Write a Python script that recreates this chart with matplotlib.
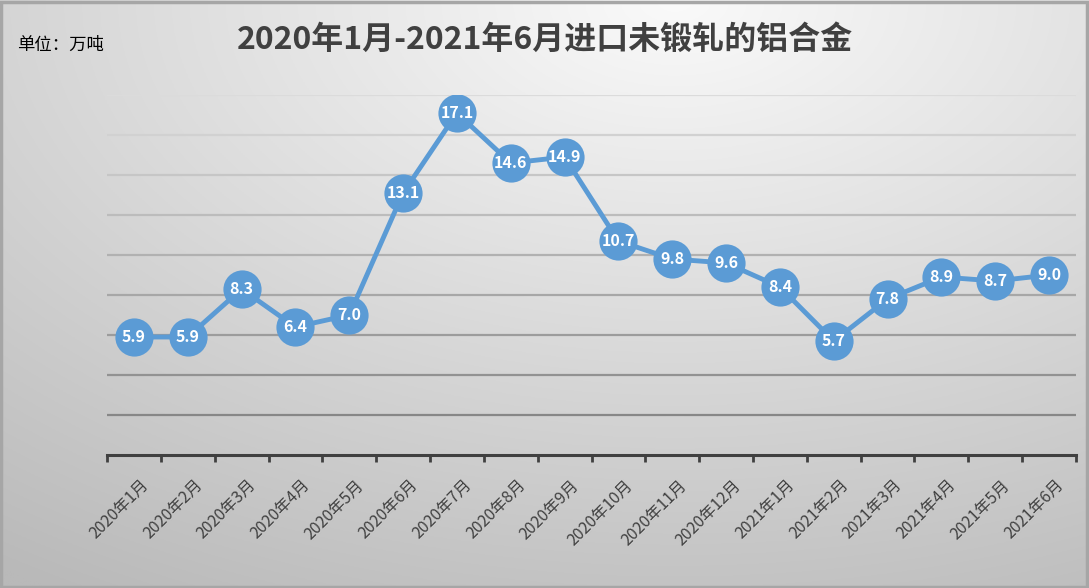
import numpy as np
import matplotlib
matplotlib.use("Agg")
import matplotlib.pyplot as plt
from matplotlib.patches import Rectangle
from matplotlib.transforms import ScaledTranslation

plt.rcParams['font.family'] = ['Noto Sans CJK SC', 'DejaVu Sans']

months = ["2020年1月", "2020年2月", "2020年3月", "2020年4月", "2020年5月", "2020年6月",
          "2020年7月", "2020年8月", "2020年9月", "2020年10月", "2020年11月", "2020年12月",
          "2021年1月", "2021年2月", "2021年3月", "2021年4月", "2021年5月", "2021年6月"]
values = [5.9, 5.9, 8.3, 6.4, 7.0, 13.1, 17.1, 14.6, 14.9, 10.7, 9.8, 9.6,
          8.4, 5.7, 7.8, 8.9, 8.7, 9.0]
title = "2020年1月-2021年6月进口未锻轧的铝合金"
unit = "单位：万吨"

W, H = 1089, 588
fig = plt.figure(figsize=(W / 100, H / 100), dpi=100)

# background gradient (light at top centre, darker toward corners)
bg = fig.add_axes([0, 0, 1, 1], zorder=0)
yy, xx = np.mgrid[0:1:300j, 0:1:550j]
d = np.sqrt(((xx - 0.62) * 1.1) ** 2 + (yy * 1.0) ** 2)
g = np.clip(250 - 55 * d, 185, 252) / 255
bg.imshow(np.dstack([g, g, g]), extent=[0, 1, 0, 1], aspect="auto", origin="upper")
bg.set_xlim(0, 1); bg.set_ylim(0, 1); bg.axis("off")
bg.add_patch(Rectangle((0.001, 0.002), 0.997, 0.994, fill=False, ec="#a6a6a6", lw=2.5,
                       transform=bg.transAxes))

ax = fig.add_axes([107 / W, 1 - 455 / H, (1076 - 107) / W, (455 - 95) / H], zorder=1)
ax.patch.set_alpha(0)
x = np.arange(len(months))
ax.set_xlim(-0.5, len(months) - 0.5)
ax.set_ylim(0, 18)

# horizontal gridlines, lighter near the top
for yv in range(2, 19, 2):
    c = 0.86 - 0.33 * (18 - yv) / 16
    ax.axhline(yv, color=(c, c, c), lw=1.6, zorder=1)

ax.plot(x, values, color="#5b9bd5", lw=3.5, marker="o", ms=27.5,
        mfc="#5b9bd5", mec="#5b9bd5", mew=0, zorder=3)
for xi, v in zip(x, values):
    ax.text(xi, v, f"{v:.1f}", ha="center", va="center", color="white",
            fontsize=11.5, fontweight="bold", zorder=4)

for s in ["top", "right", "left"]:
    ax.spines[s].set_visible(False)
ax.spines["bottom"].set_color("#404040")
ax.spines["bottom"].set_linewidth(2.2)
ax.set_yticks([])
ax.set_xticks(np.arange(-0.5, len(months), 1))
ax.set_xticklabels([])
ax.tick_params(axis="x", length=5, width=2, color="#404040", direction="out")
ax.set_xticks(x, minor=True)
ax.set_xticklabels(months, minor=True, rotation=45, ha="right", rotation_mode="anchor",
                   fontsize=11.5, color="#404040")
ax.tick_params(axis="x", which="minor", length=0, pad=12)
shift = ScaledTranslation(6 / 100, -5 / 100, fig.dpi_scale_trans)
for lbl in ax.get_xticklabels(minor=True):
    lbl.set_transform(lbl.get_transform() + shift)

fig.text(545 / W, 1 - 40 / H, title, ha="center", va="center", fontsize=23,
         fontweight="bold", color="#404040")
fig.text(17 / W, 1 - 45 / H, unit, ha="left", va="center", fontsize=12.5, color="black")

fig.savefig("out.png", dpi=100)
